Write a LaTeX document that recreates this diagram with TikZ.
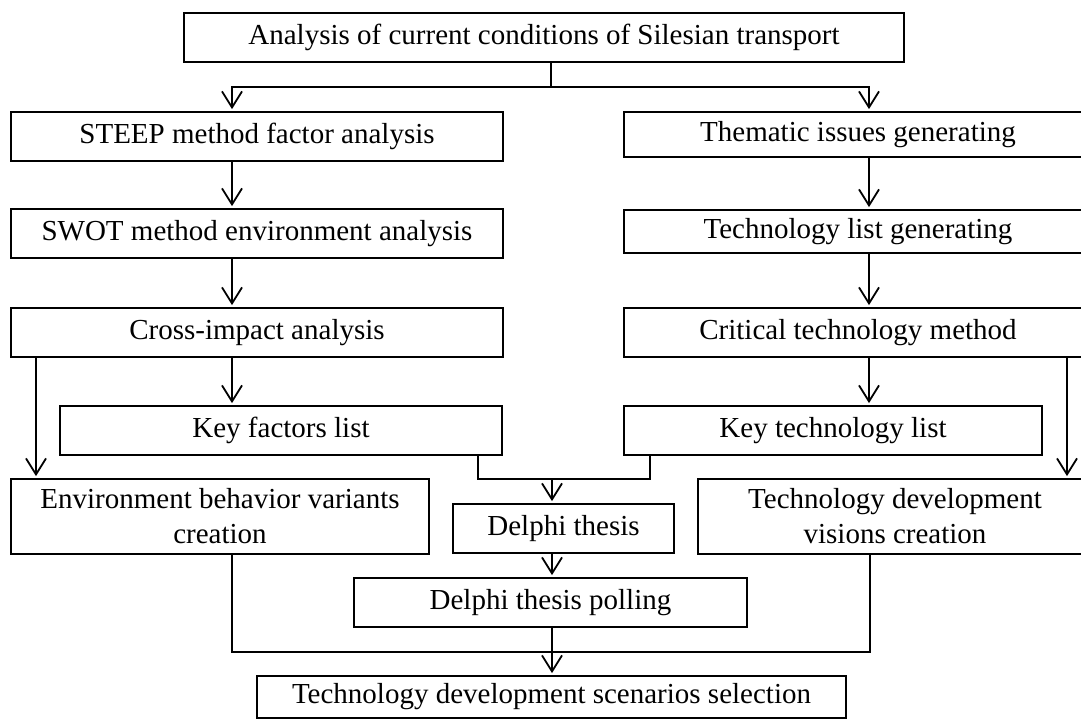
\documentclass[tikz,border=0pt]{standalone}
\usepackage{fontspec}
\setmainfont{Liberation Serif}
\usetikzlibrary{arrows.meta}
\begin{document}
\begin{tikzpicture}[x=1pt,y=-1pt,
  bx/.style={draw,line width=1.8pt,inner sep=0pt,align=center,
    font=\fontsize{29}{35}\selectfont},
  ln/.style={line width=1.8pt},
  arr/.style={line width=1.8pt,-{Straight Barb[length=16pt,width=20pt]},shorten >=2pt}]
\clip (0,0) rectangle (1081,720);
\fill[white] (0,0) rectangle (1081,720);
% nodes
\node[bx,minimum width=720pt,minimum height=49pt] (top) at (544,37.5) {Analysis of current conditions of Silesian transport};
\node[bx,minimum width=492pt,minimum height=49pt] (steep) at (257,136.5) {STEEP method factor analysis};
\node[bx,minimum width=492pt,minimum height=49pt] (swot) at (257,233.5) {SWOT method environment analysis};
\node[bx,minimum width=492pt,minimum height=49pt] (cross) at (257,332.5) {Cross-impact analysis};
\node[bx,minimum width=442pt,minimum height=49pt] (keyf) at (281,430.5) {Key factors list};
\node[bx,minimum width=418pt,minimum height=75pt] (env) at (220,516.5) {Environment behavior variants\\creation};
\node[bx,minimum width=468pt,minimum height=45pt] (them) at (858,134.5) {Thematic issues generating};
\node[bx,minimum width=468pt,minimum height=43pt] (techl) at (858,231.5) {Technology list generating};
\node[bx,minimum width=468pt,minimum height=49pt] (crit) at (858,332.5) {Critical technology method};
\node[bx,minimum width=418pt,minimum height=49pt] (keyt) at (833,430.5) {Key technology list};
\node[bx,minimum width=394pt,minimum height=75pt] (vis) at (895,516.5) {Technology development\\visions creation};
\node[bx,minimum width=221pt,minimum height=49pt] (delt) at (563.5,528.5) {Delphi thesis};
\node[bx,minimum width=393pt,minimum height=49pt] (poll) at (550.5,602.5) {Delphi thesis polling};
\node[bx,minimum width=589pt,minimum height=42pt] (final) at (551.5,697) {Technology development scenarios selection};
% column coordinates
\coordinate (cl) at (232,0);
\coordinate (cr) at (869,0);
\coordinate (cll) at (36,0);
\coordinate (crr) at (1067,0);
\coordinate (j1) at (551,87);
\coordinate (kf) at (478,0);
\coordinate (kt) at (650,0);
\coordinate (jk) at (552,479);
\coordinate (vx) at (870,0);
\coordinate (jm) at (552,652);
% connectors
\draw[ln] (top.south -| j1) -- (j1);
\draw[arr] (j1) -| (cl |- steep.north);
\draw[arr] (j1) -| (cr |- them.north);
\draw[arr] (cl |- steep.south) -- (cl |- swot.north);
\draw[arr] (cl |- swot.south) -- (cl |- cross.north);
\draw[arr] (cl |- cross.south) -- (cl |- keyf.north);
\draw[arr] (cll |- cross.south) -- (cll |- env.north);
\draw[arr] (cr |- them.south) -- (cr |- techl.north);
\draw[arr] (cr |- techl.south) -- (cr |- crit.north);
\draw[arr] (cr |- crit.south) -- (cr |- keyt.north);
\draw[arr] (crr |- crit.south) -- (crr |- vis.north);
\draw[ln] (kf |- keyf.south) |- (jk);
\draw[ln] (kt |- keyt.south) |- (jk);
\draw[arr] (jk) -- (jk |- delt.north);
\draw[arr] (jk |- delt.south) -- (jk |- poll.north);
\draw[ln] (cl |- env.south) |- (jm);
\draw[ln] (vx |- vis.south) |- (jm);
\draw[arr] (jk |- poll.south) -- (jk |- final.north);
\end{tikzpicture}
\end{document}
